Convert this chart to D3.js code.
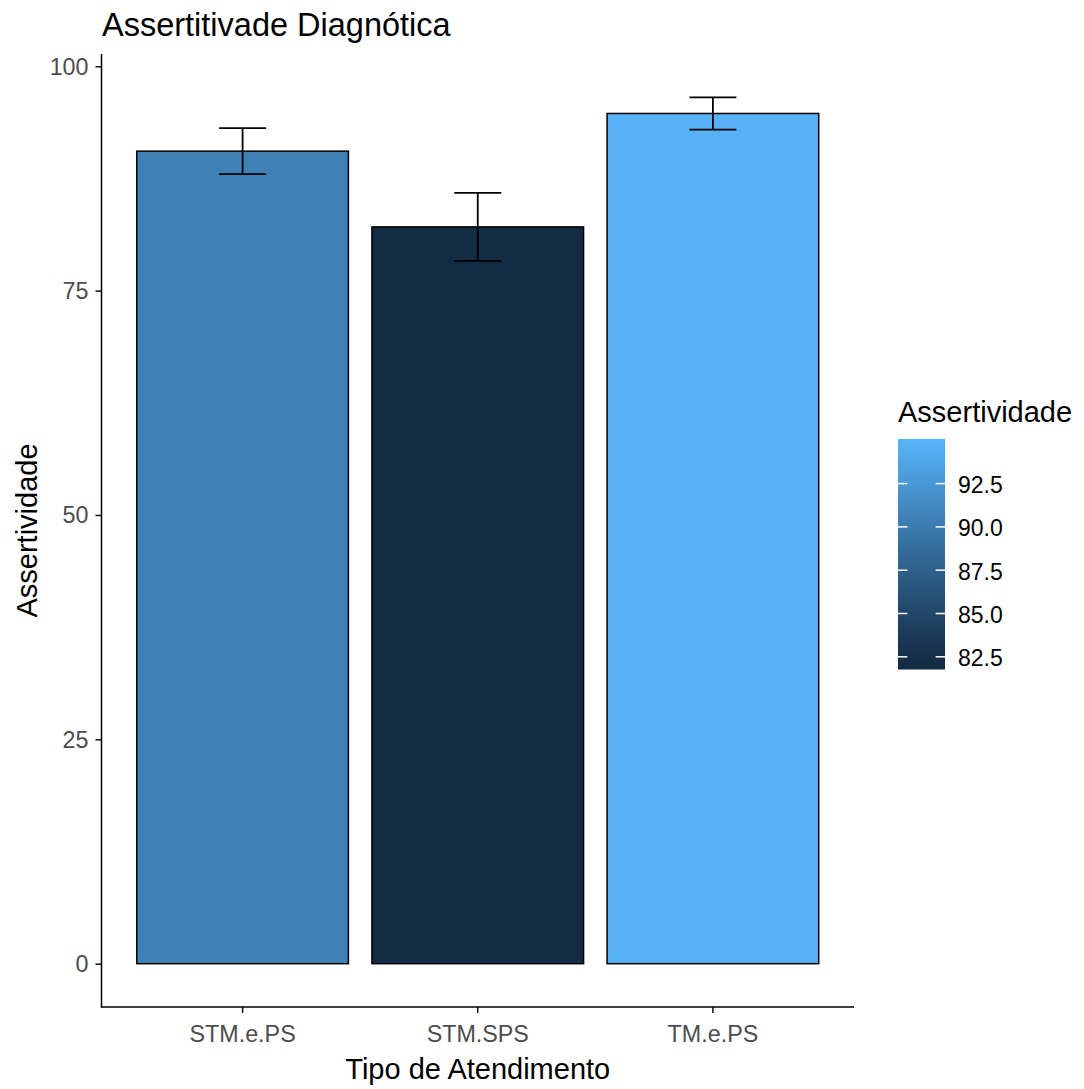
<!DOCTYPE html>
<html><head><meta charset="utf-8">
<script src="https://cdn.jsdelivr.net/npm/d3@7"></script>
<style>body{margin:0;background:#fff;} svg{display:block;font-family:"Liberation Sans",Arial,sans-serif;}</style>
</head><body>
<svg id="chart" width="1084" height="1089"></svg>
<script>
const categories = ["STM.e.PS", "STM.SPS", "TM.e.PS"];
const values = [90.54, 82.10, 94.74];
const errors = [2.56, 3.79, 1.80];
const yTicks = [0, 25, 50, 75, 100];
const legendTicks = [82.5, 85.0, 87.5, 90.0, 92.5];
const chartTitle = "Assertitivade Diagnótica";
const xTitle = "Tipo de Atendimento";
const yTitle = "Assertividade";
const legendTitle = "Assertividade";

const FONT = "'Liberation Sans',Arial,sans-serif";
const svg = d3.select("#chart");
const panel = {left: 101.5, right: 854, top: 54, bottom: 1007};

const yMax = d3.max(values.map((v, i) => v + errors[i]));
const pad = yMax * 0.05;
const y = d3.scaleLinear().domain([-pad, yMax + pad]).range([panel.bottom, panel.top]);
const x = d3.scaleBand().domain(categories).range([panel.left, panel.right]).paddingInner(0.1).paddingOuter(0.15);

const cMin = d3.min(values), cMax = d3.max(values);
const color = d3.scaleLinear().domain([cMin, cMax]).range(["#132B43", "#56B1F7"]).interpolate(d3.interpolateLab);

// bars
svg.append("g").selectAll("rect").data(values).join("rect")
  .attr("x", (d, i) => x(categories[i]))
  .attr("width", x.bandwidth())
  .attr("y", d => y(d))
  .attr("height", d => y(0) - y(d))
  .attr("fill", d => color(d))
  .attr("stroke", "#000").attr("stroke-width", 1.5);

// error bars
const step = x.step();
const eg = svg.append("g").attr("stroke", "#000").attr("stroke-width", 1.8).attr("fill", "none");
values.forEach((v, i) => {
  const cx = x(categories[i]) + x.bandwidth() / 2;
  const hw = step * 0.1;
  eg.append("line").attr("x1", cx).attr("x2", cx).attr("y1", y(v + errors[i])).attr("y2", y(v - errors[i]));
  eg.append("line").attr("x1", cx - hw).attr("x2", cx + hw).attr("y1", y(v + errors[i])).attr("y2", y(v + errors[i]));
  eg.append("line").attr("x1", cx - hw).attr("x2", cx + hw).attr("y1", y(v - errors[i])).attr("y2", y(v - errors[i]));
});

// axes
const yAxis = svg.append("g").attr("transform", `translate(${panel.left},0)`)
  .call(d3.axisLeft(y).tickValues(yTicks).tickSize(6).tickPadding(7).tickFormat(d3.format("d")));
const xAxis = svg.append("g").attr("transform", `translate(0,${panel.bottom})`)
  .call(d3.axisBottom(x).tickSize(6));
[yAxis, xAxis].forEach(a => {
  a.select(".domain").remove();
  a.selectAll(".tick line").attr("stroke", "#000").attr("stroke-width", 1.4);
  a.selectAll(".tick text").attr("fill", "#4D4D4D").style("font-size", "23.3px").style("font-family", FONT);
});
yAxis.selectAll(".tick text").attr("dy", "0.34em");
xAxis.selectAll(".tick text").attr("y", 35).attr("dy", null);
svg.append("line").attr("x1", panel.left).attr("x2", panel.left).attr("y1", panel.top).attr("y2", panel.bottom + 0.75).attr("stroke", "#000").attr("stroke-width", 1.5);
svg.append("line").attr("x1", panel.left).attr("x2", panel.right).attr("y1", panel.bottom).attr("y2", panel.bottom).attr("stroke", "#000").attr("stroke-width", 1.5);

// titles
svg.append("text").attr("x", 102).attr("y", 36).text(chartTitle).style("font-size", "32.5px").attr("fill", "#000");
svg.append("text").attr("x", (panel.left + panel.right) / 2).attr("y", 1079).attr("text-anchor", "middle").text(xTitle).style("font-size", "29px");
svg.append("text").attr("transform", `translate(37,${(panel.top + panel.bottom) / 2}) rotate(-90)`).attr("text-anchor", "middle").text(yTitle).style("font-size", "29px");

// legend
const lg = {x: 898, w: 47, top: 439, bottom: 669.5};
const L = lg.bottom - lg.top;
const ly = d3.scaleLinear().domain([cMin, cMax]).range([lg.bottom - 0.025 * L, lg.top + 0.025 * L]);
const defs = svg.append("defs");
const grad = defs.append("linearGradient").attr("id", "cbar").attr("x1", 0).attr("x2", 0).attr("y1", 1).attr("y2", 0);
grad.append("stop").attr("offset", 0).attr("stop-color", color(cMin));
d3.range(0, 21).forEach(k => {
  const v = cMin + (cMax - cMin) * k / 20;
  grad.append("stop").attr("offset", (0.025 + 0.95 * k / 20)).attr("stop-color", color(v));
});
grad.append("stop").attr("offset", 1).attr("stop-color", color(cMax));
svg.append("rect").attr("x", lg.x).attr("y", lg.top).attr("width", lg.w).attr("height", L).attr("fill", "url(#cbar)");
const lt = svg.append("g");
legendTicks.forEach(t => {
  const yy = ly(t);
  lt.append("line").attr("x1", lg.x).attr("x2", lg.x + lg.w / 5).attr("y1", yy).attr("y2", yy).attr("stroke", "#fff").attr("stroke-width", 1.5);
  lt.append("line").attr("x1", lg.x + lg.w * 4 / 5).attr("x2", lg.x + lg.w).attr("y1", yy).attr("y2", yy).attr("stroke", "#fff").attr("stroke-width", 1.5);
  lt.append("text").attr("x", 958).attr("y", yy + 1.5).attr("dy", "0.35em").text(d3.format(".1f")(t)).style("font-size", "23px").attr("fill", "#000");
});
svg.append("text").attr("x", 898).attr("y", 422).text(legendTitle).style("font-size", "29px");
</script>
</body></html>
